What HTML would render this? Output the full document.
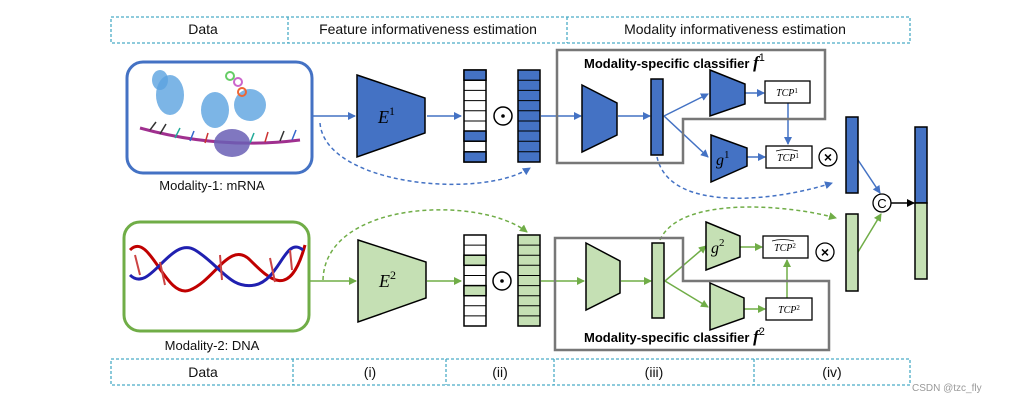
<!DOCTYPE html>
<html><head><meta charset="utf-8"><style>
body{margin:0;background:#fff;}
svg{display:block;font-family:"Liberation Sans",sans-serif;}
.m{font-family:"Liberation Serif",serif;font-style:italic;}
</style></head><body>
<svg width="1009" height="404" viewBox="0 0 1009 404" xmlns="http://www.w3.org/2000/svg">
<defs>
<marker id="ab" markerWidth="8" markerHeight="8" refX="7" refY="4" orient="auto" markerUnits="userSpaceOnUse"><path d="M0,0 L8,4 L0,8 Z" fill="#4472C4"/></marker>
<marker id="ag" markerWidth="8" markerHeight="8" refX="7" refY="4" orient="auto" markerUnits="userSpaceOnUse"><path d="M0,0 L8,4 L0,8 Z" fill="#70AD47"/></marker>
<marker id="ak" markerWidth="8" markerHeight="8" refX="7" refY="4" orient="auto" markerUnits="userSpaceOnUse"><path d="M0,0 L8,4 L0,8 Z" fill="#000"/></marker>
</defs>
<g fill="none" stroke="#4BACC6" stroke-width="1.3" stroke-dasharray="3,2">
<rect x="111" y="17" width="799" height="26"/>
<line x1="288" y1="17" x2="288" y2="43"/><line x1="567" y1="17" x2="567" y2="43"/>
<rect x="111" y="359" width="799" height="26"/>
<line x1="293" y1="359" x2="293" y2="385"/><line x1="446" y1="359" x2="446" y2="385"/>
<line x1="554" y1="359" x2="554" y2="385"/><line x1="754" y1="359" x2="754" y2="385"/>
</g>
<g font-size="14" text-anchor="middle" fill="#111">
<text x="203" y="34">Data</text><text x="428" y="34">Feature informativeness estimation</text><text x="735" y="34">Modality informativeness estimation</text>
<text x="203" y="377">Data</text><text x="370" y="377">(i)</text><text x="500" y="377">(ii)</text><text x="654" y="377">(iii)</text><text x="832" y="377">(iv)</text>
<text x="212" y="190" font-size="13">Modality-1: mRNA</text><text x="212" y="350" font-size="13">Modality-2: DNA</text>
</g>
<text x="912" y="391" font-size="10" fill="#999">CSDN @tzc_fly</text>

<rect x="127" y="62" width="185" height="111" rx="16" fill="#fff" stroke="#4472C4" stroke-width="3"/>
<g>
<path d="M140,128 Q220,150 300,140" stroke="#A0308F" stroke-width="3" fill="none"/>
<g stroke="#333" stroke-width="1.5">
<line x1="150" y1="130" x2="156" y2="122"/><line x1="160" y1="134" x2="166" y2="124"/><line x1="175" y1="138" x2="180" y2="128" stroke="#2a9"/><line x1="190" y1="141" x2="194" y2="131" stroke="#36c"/><line x1="205" y1="143" x2="208" y2="133" stroke="#c33"/><line x1="250" y1="143" x2="254" y2="133" stroke="#2a9"/><line x1="265" y1="142" x2="268" y2="132" stroke="#c33"/><line x1="280" y1="141" x2="284" y2="131"/><line x1="292" y1="140" x2="296" y2="130" stroke="#36c"/>
</g>
<ellipse cx="170" cy="95" rx="14" ry="20" fill="#5BA3E0" opacity="0.8"/>
<ellipse cx="160" cy="80" rx="8" ry="10" fill="#5BA3E0" opacity="0.8"/>
<ellipse cx="215" cy="110" rx="14" ry="18" fill="#5BA3E0" opacity="0.8"/>
<ellipse cx="250" cy="105" rx="16" ry="16" fill="#5BA3E0" opacity="0.8"/>
<ellipse cx="232" cy="143" rx="18" ry="14" fill="#6A5FB5" opacity="0.85"/>
<circle cx="238" cy="82" r="4" fill="none" stroke="#c6c" stroke-width="2"/><circle cx="230" cy="76" r="4" fill="none" stroke="#6c6" stroke-width="2"/><circle cx="242" cy="92" r="4" fill="none" stroke="#e63" stroke-width="2"/>
</g>
<rect x="124" y="222" width="185" height="109" rx="16" fill="#fff" stroke="#70AD47" stroke-width="3"/>
<path d="M130,250 C150,230 165,300 190,290 S230,240 250,260 S290,300 305,245" stroke="#C00000" stroke-width="3" fill="none"/>
<path d="M130,275 C150,295 170,235 195,250 S230,290 255,285 S285,235 303,250" stroke="#2020B0" stroke-width="3" fill="none"/>
<path d="M135,255 L140,275 M160,262 L165,285 M220,255 L222,280 M270,258 L275,282 M290,250 L292,270" stroke="#C44" stroke-width="2"/>

<g stroke="#4472C4" stroke-width="1.5" fill="none">
<line x1="312" y1="116" x2="355" y2="116" marker-end="url(#ab)"/>
<line x1="427" y1="116" x2="461" y2="116" marker-end="url(#ab)"/>
<line x1="541" y1="116" x2="581" y2="116" marker-end="url(#ab)"/>
<line x1="618" y1="116" x2="650" y2="116" marker-end="url(#ab)"/>
<line x1="664" y1="116" x2="708" y2="94" marker-end="url(#ab)"/>
<line x1="664" y1="116" x2="708" y2="157" marker-end="url(#ab)"/>
<line x1="745" y1="93" x2="764" y2="93" marker-end="url(#ab)"/>
<line x1="747" y1="157" x2="765" y2="157" marker-end="url(#ab)"/>
<line x1="788" y1="103" x2="788" y2="144" marker-end="url(#ab)"/>
<line x1="858" y1="160" x2="880" y2="193" marker-end="url(#ab)"/>
<path d="M320,123 C325,185 480,200 530,168" stroke-dasharray="4,3" marker-end="url(#ab)"/>
<path d="M657,157 C670,215 780,200 832,183" stroke-dasharray="4,3" marker-end="url(#ab)"/>
</g>
<polygon points="357,75 425,98 425,133 357,157" fill="#4472C4" stroke="#000" stroke-width="1.5"/>
<text x="378" y="123" class="m" font-size="18">E<tspan font-size="12" dy="-8" font-style="normal">1</tspan></text>
<g stroke="#000" stroke-width="1.5">
<rect x="464" y="70" width="22" height="92" fill="#fff"/>
<rect x="464" y="70" width="22" height="10.2" fill="#4472C4"/>
<rect x="464" y="131" width="22" height="10.2" fill="#4472C4"/>
<rect x="464" y="151.8" width="22" height="10.2" fill="#4472C4"/>
<rect x="518" y="70" width="22" height="92" fill="#4472C4"/>
</g>
<g stroke="#000" stroke-width="1">
<line x1="464" y1="80.2" x2="486" y2="80.2"/><line x1="464" y1="90.4" x2="486" y2="90.4"/><line x1="464" y1="100.6" x2="486" y2="100.6"/><line x1="464" y1="110.8" x2="486" y2="110.8"/><line x1="464" y1="121" x2="486" y2="121"/><line x1="464" y1="141.2" x2="486" y2="141.2"/>
<line x1="518" y1="80.2" x2="540" y2="80.2"/><line x1="518" y1="90.4" x2="540" y2="90.4"/><line x1="518" y1="100.6" x2="540" y2="100.6"/><line x1="518" y1="110.8" x2="540" y2="110.8"/><line x1="518" y1="121" x2="540" y2="121"/><line x1="518" y1="131" x2="540" y2="131"/><line x1="518" y1="141.2" x2="540" y2="141.2"/><line x1="518" y1="151.8" x2="540" y2="151.8"/>
</g>
<circle cx="503" cy="116" r="9" fill="#fff" stroke="#000" stroke-width="1.5"/><circle cx="503" cy="116" r="1.8" fill="#000"/>
<polygon points="557,50 825,50 825,119 683,119 683,163 557,163" fill="none" stroke="#777" stroke-width="2.5"/>
<text x="584" y="68" font-size="13" font-weight="bold">Modality-specific classifier <tspan class="m" font-size="17">f</tspan><tspan font-size="11" dy="-7" font-weight="normal">1</tspan></text>
<polygon points="582,85 617,103 617,135 582,152" fill="#4472C4" stroke="#000" stroke-width="1.5"/>
<rect x="651" y="79" width="12" height="76" fill="#4472C4" stroke="#000" stroke-width="1.5"/>
<polygon points="710,70 745,84 745,104 710,116" fill="#4472C4" stroke="#000" stroke-width="1.5"/>
<polygon points="711,135 747,148 747,166 711,182" fill="#4472C4" stroke="#000" stroke-width="1.5"/>
<text x="716" y="165" class="m" font-size="16">g<tspan font-size="11" dy="-7" font-style="normal">1</tspan></text>
<rect x="765" y="81" width="45" height="22" fill="#fff" stroke="#000" stroke-width="1.3"/>
<text x="787" y="96" text-anchor="middle" class="m" font-size="10">TCP<tspan font-size="7" dy="-3" font-style="normal">1</tspan></text>
<rect x="766" y="146" width="46" height="22" fill="#fff" stroke="#000" stroke-width="1.3"/>
<text x="788" y="161" text-anchor="middle" class="m" font-size="10">TCP<tspan font-size="7" dy="-3" font-style="normal">1</tspan></text>
<path d="M776,151 Q786,148 798,151" stroke="#000" fill="none" stroke-width="0.7"/>
<circle cx="828" cy="157" r="9" fill="#fff" stroke="#000" stroke-width="1.3"/>
<text x="828" y="162" text-anchor="middle" font-size="14" font-weight="bold">×</text>
<rect x="846" y="117" width="12" height="76" fill="#4472C4" stroke="#000" stroke-width="1.5"/>

<g stroke="#70AD47" stroke-width="1.5" fill="none">
<line x1="309" y1="281" x2="356" y2="281" marker-end="url(#ag)"/>
<line x1="427" y1="281" x2="461" y2="281" marker-end="url(#ag)"/>
<line x1="541" y1="281" x2="584" y2="281" marker-end="url(#ag)"/>
<line x1="621" y1="281" x2="651" y2="281" marker-end="url(#ag)"/>
<line x1="665" y1="281" x2="706" y2="246" marker-end="url(#ag)"/>
<line x1="665" y1="281" x2="708" y2="307" marker-end="url(#ag)"/>
<line x1="740" y1="247" x2="762" y2="247" marker-end="url(#ag)"/>
<line x1="744" y1="309" x2="765" y2="309" marker-end="url(#ag)"/>
<line x1="787" y1="298" x2="787" y2="260" marker-end="url(#ag)"/>
<line x1="858" y1="252" x2="881" y2="214" marker-end="url(#ag)"/>
<path d="M323,280 C325,200 480,195 527,232" stroke-dasharray="4,3" marker-end="url(#ag)"/>
<path d="M660,240 C680,195 790,205 836,218" stroke-dasharray="4,3" marker-end="url(#ag)"/>
</g>
<polygon points="358,240 426,262 426,298 358,322" fill="#C5E0B4" stroke="#000" stroke-width="1.5"/>
<text x="379" y="287" class="m" font-size="18">E<tspan font-size="12" dy="-8" font-style="normal">2</tspan></text>
<g stroke="#000" stroke-width="1.5">
<rect x="464" y="235" width="22" height="91" fill="#fff"/>
<rect x="464" y="255.2" width="22" height="10.1" fill="#C5E0B4"/>
<rect x="464" y="285.6" width="22" height="10.1" fill="#C5E0B4"/>
<rect x="518" y="235" width="22" height="91" fill="#C5E0B4"/>
</g>
<g stroke="#000" stroke-width="1">
<line x1="464" y1="245.1" x2="486" y2="245.1"/><line x1="464" y1="275.5" x2="486" y2="275.5"/><line x1="464" y1="305.8" x2="486" y2="305.8"/><line x1="464" y1="315.9" x2="486" y2="315.9"/>
<line x1="518" y1="245.1" x2="540" y2="245.1"/><line x1="518" y1="255.2" x2="540" y2="255.2"/><line x1="518" y1="265.3" x2="540" y2="265.3"/><line x1="518" y1="275.5" x2="540" y2="275.5"/><line x1="518" y1="285.6" x2="540" y2="285.6"/><line x1="518" y1="295.7" x2="540" y2="295.7"/><line x1="518" y1="305.8" x2="540" y2="305.8"/><line x1="518" y1="315.9" x2="540" y2="315.9"/>
</g>
<circle cx="502" cy="281" r="9" fill="#fff" stroke="#000" stroke-width="1.5"/><circle cx="502" cy="281" r="1.8" fill="#000"/>
<polygon points="555,238 683,238 683,281 829,281 829,350 555,350" fill="none" stroke="#777" stroke-width="2.5"/>
<text x="584" y="342" font-size="13" font-weight="bold">Modality-specific classifier <tspan class="m" font-size="17">f</tspan><tspan font-size="11" dy="-7" font-weight="normal">2</tspan></text>
<polygon points="586,243 620,261 620,293 586,310" fill="#C5E0B4" stroke="#000" stroke-width="1.5"/>
<rect x="652" y="243" width="12" height="75" fill="#C5E0B4" stroke="#000" stroke-width="1.5"/>
<polygon points="706,222 740,236 740,257 706,270" fill="#C5E0B4" stroke="#000" stroke-width="1.5"/>
<text x="711" y="253" class="m" font-size="16">g<tspan font-size="11" dy="-7" font-style="normal">2</tspan></text>
<polygon points="710,283 744,298 744,318 710,330" fill="#C5E0B4" stroke="#000" stroke-width="1.5"/>
<rect x="763" y="236" width="45" height="22" fill="#fff" stroke="#000" stroke-width="1.3"/>
<text x="785" y="251" text-anchor="middle" class="m" font-size="10">TCP<tspan font-size="7" dy="-3" font-style="normal">2</tspan></text>
<path d="M772,241 Q782,238 794,241" stroke="#000" fill="none" stroke-width="0.7"/>
<rect x="766" y="298" width="46" height="22" fill="#fff" stroke="#000" stroke-width="1.3"/>
<text x="789" y="313" text-anchor="middle" class="m" font-size="10">TCP<tspan font-size="7" dy="-3" font-style="normal">2</tspan></text>
<circle cx="825" cy="252" r="9" fill="#fff" stroke="#000" stroke-width="1.3"/>
<text x="825" y="257" text-anchor="middle" font-size="14" font-weight="bold">×</text>
<rect x="846" y="214" width="12" height="77" fill="#C5E0B4" stroke="#000" stroke-width="1.5"/>

<circle cx="882" cy="203" r="9" fill="#fff" stroke="#000" stroke-width="1.3"/>
<text x="882" y="208" text-anchor="middle" font-size="13">C</text>
<line x1="891" y1="203" x2="914" y2="203" stroke="#000" stroke-width="1.5" marker-end="url(#ak)"/>
<rect x="915" y="127" width="12" height="76" fill="#4472C4" stroke="#000" stroke-width="1.5"/>
<rect x="915" y="203" width="12" height="76" fill="#C5E0B4" stroke="#000" stroke-width="1.5"/>
</svg>
</body></html>
